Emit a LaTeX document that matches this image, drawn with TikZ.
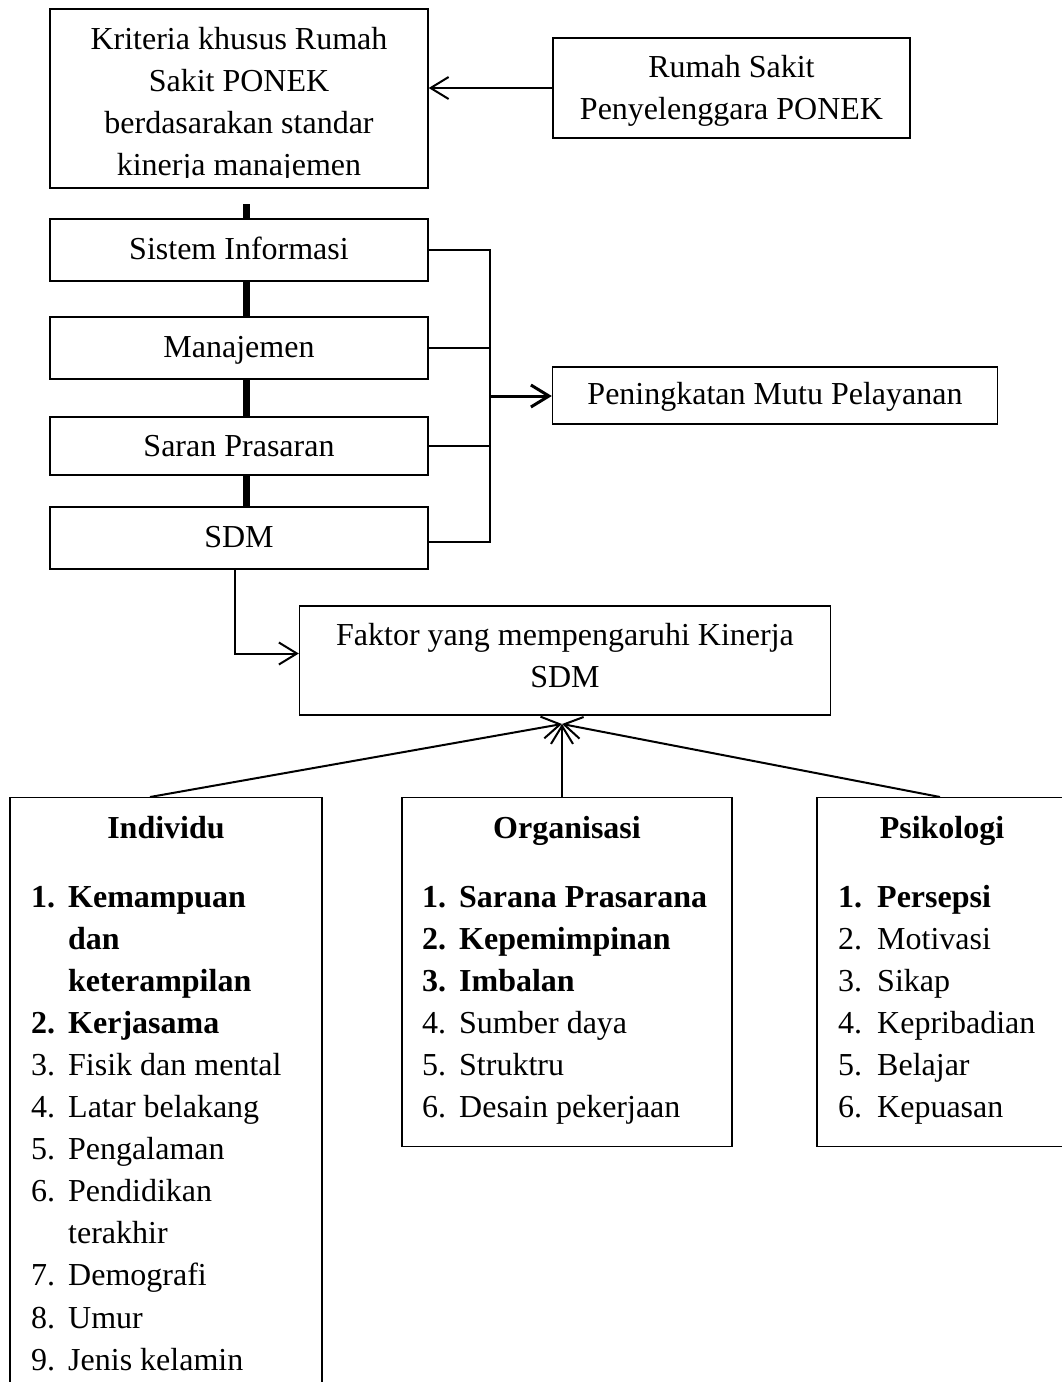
\documentclass[tikz,border=0pt]{standalone}
\usepackage{fontspec}
\setmainfont{Liberation Serif}
\usetikzlibrary{arrows.meta}

\begin{document}
\begin{tikzpicture}[x=1pt, y=-1pt, font=\fontsize{32}{42}\selectfont,
    box/.style={draw, line width=1.4pt, fill=white, inner sep=0pt, text height=24pt, text depth=6pt},
    lbl/.style={inner sep=0pt},
    link/.style={line width=2pt},
    arr/.style={line width=2pt, -{Straight Barb[length=18pt,width=22pt]}}]
            \useasboundingbox (0,0) rectangle (1062,1382);%

            % Drawing thick spine behind the boxes
            \coordinate (spine-top) at (246,204);%
            \coordinate (spine-bot) at (246,507);%
            \draw [line width=7pt] (spine-top) -- (spine-bot);%

            % Drawing box Kriteria
            \node [box, minimum width=378pt, minimum height=179pt] (kriteria) at (239,98.5) {};%
            \begin{scope}
            \clip (50,10) rectangle (428,177);%
            \draw (239,49) node [lbl, anchor=base] (kriteria-txt) {\begin{tabular}[t]{@{}c@{}}Kriteria khusus Rumah\\ Sakit PONEK\\ berdasarakan standar\\ kinerja manajemen\end{tabular}};%
            \end{scope}

            % Drawing box Rumah Sakit
            \node [box, minimum width=357pt, minimum height=100pt] (rumah) at (731.5,88) {};%
            \draw (731.5,77) node [lbl, anchor=base] (rumah-txt) {\begin{tabular}[t]{@{}c@{}}Rumah Sakit\\ Penyelenggara PONEK\end{tabular}};%

            % Drawing boxes of the spine
            \node [box, minimum width=378pt, minimum height=62pt] (sisinfo) at (239,250) {Sistem Informasi};%
            \node [box, minimum width=378pt, minimum height=62pt] (manaj) at (239,348) {Manajemen};%
            \node [box, minimum width=378pt, minimum height=58pt, text height=26pt] (sarpras) at (239,446) {Saran Prasaran};%
            \node [box, minimum width=378pt, minimum height=62pt] (sdm) at (239,538) {SDM};%

            % Drawing box Peningkatan
            \node [box, minimum width=445pt, minimum height=57pt] (mutu) at (775,395.5) {Peningkatan Mutu Pelayanan};%

            % Drawing box Faktor
            \node [box, minimum width=531pt, minimum height=109pt] (faktor) at (565,660.5) {};%
            \draw (565,645) node [lbl, anchor=base] (faktor-txt) {\begin{tabular}[t]{@{}c@{}}Faktor yang mempengaruhi Kinerja\\ SDM\end{tabular}};%

            % Drawing boxes of the three factors
            \node [box, anchor=north, minimum width=312pt, minimum height=620pt] (individu) at (166,797) {};%
            \node [box, anchor=north, minimum width=330pt, minimum height=349pt] (organisasi) at (567,797) {};%
            \node [box, anchor=north, minimum width=249pt, minimum height=349pt] (psikologi) at (941.5,797) {};%

            % Marking headings
            \draw (166,838) node [lbl, anchor=base] (individu-head) {\textbf{Individu}};%
            \draw (567,838) node [lbl, anchor=base] (organisasi-head) {\textbf{Organisasi}};%
            \draw (942,838) node [lbl, anchor=base] (psikologi-head) {\textbf{Psikologi}};%

            % Marking list Individu
            \foreach \num/\txt [count=\i from 0] in {{\textbf{1.}}/{\textbf{Kemampuan}}, {}/{\textbf{dan}}, {}/{\textbf{keterampilan}}, {\textbf{2.}}/{\textbf{Kerjasama}}, 3./Fisik dan mental, 4./Latar belakang, 5./Pengalaman, 6./Pendidikan, {}/terakhir, 7./Demografi, 8./Umur, 9./Jenis kelamin}
            {
              \pgfmathsetmacro{\y}{907+42.1*\i}
              \draw (31,\y) node [lbl, anchor=base west] (ind-num-\i) {\num};%
              \draw (68,\y) node [lbl, anchor=base west] (ind-item-\i) {\txt};%
            }

            % Marking list Organisasi
            \foreach \num/\txt [count=\i from 0] in {{\textbf{1.}}/{\textbf{Sarana Prasarana}}, {\textbf{2.}}/{\textbf{Kepemimpinan}}, {\textbf{3.}}/{\textbf{Imbalan}}, 4./Sumber daya, 5./Struktru, 6./Desain pekerjaan}
            {
              \pgfmathsetmacro{\y}{907+42.1*\i}
              \draw (422,\y) node [lbl, anchor=base west] (org-num-\i) {\num};%
              \draw (459,\y) node [lbl, anchor=base west] (org-item-\i) {\txt};%
            }

            % Marking list Psikologi
            \foreach \num/\txt [count=\i from 0] in {{\textbf{1.}}/{\textbf{Persepsi}}, 2./Motivasi, 3./Sikap, 4./Kepribadian, 5./Belajar, 6./Kepuasan}
            {
              \pgfmathsetmacro{\y}{907+42.1*\i}
              \draw (838,\y) node [lbl, anchor=base west] (psi-num-\i) {\num};%
              \draw (877,\y) node [lbl, anchor=base west] (psi-item-\i) {\txt};%
            }

            % Drawing arrow Rumah Sakit to Kriteria
            \draw [arr] (rumah.west) -- (rumah.west -| kriteria.east);%

            % Drawing bracket to Peningkatan
            \coordinate (bus) at (490,396);%
            \draw [link] (sisinfo.east) -- (sisinfo.east -| bus) -- ([yshift=-4pt]sdm.east -| bus) -- ([yshift=-4pt]sdm.east);%
            \draw [link] (manaj.east) -- (manaj.east -| bus);%
            \draw [link] (sarpras.east) -- (sarpras.east -| bus);%
            \draw [arr, line width=3pt] (bus) -- (bus -| mutu.west);%

            % Drawing arrow SDM to Faktor
            \draw [arr] ([xshift=-4pt]sdm.south) |- ([yshift=7pt]faktor.west);%

            % Drawing arrows of the three factors
            \coordinate (meet) at (562,724);%
            \draw [arr] ([xshift=-16pt]individu.north) -- (meet);%
            \draw [arr] (organisasi.north -| meet) -- (meet);%
            \draw [arr] ([xshift=-1.5pt]psikologi.north) -- (meet);%
\end{tikzpicture}
\end{document}
